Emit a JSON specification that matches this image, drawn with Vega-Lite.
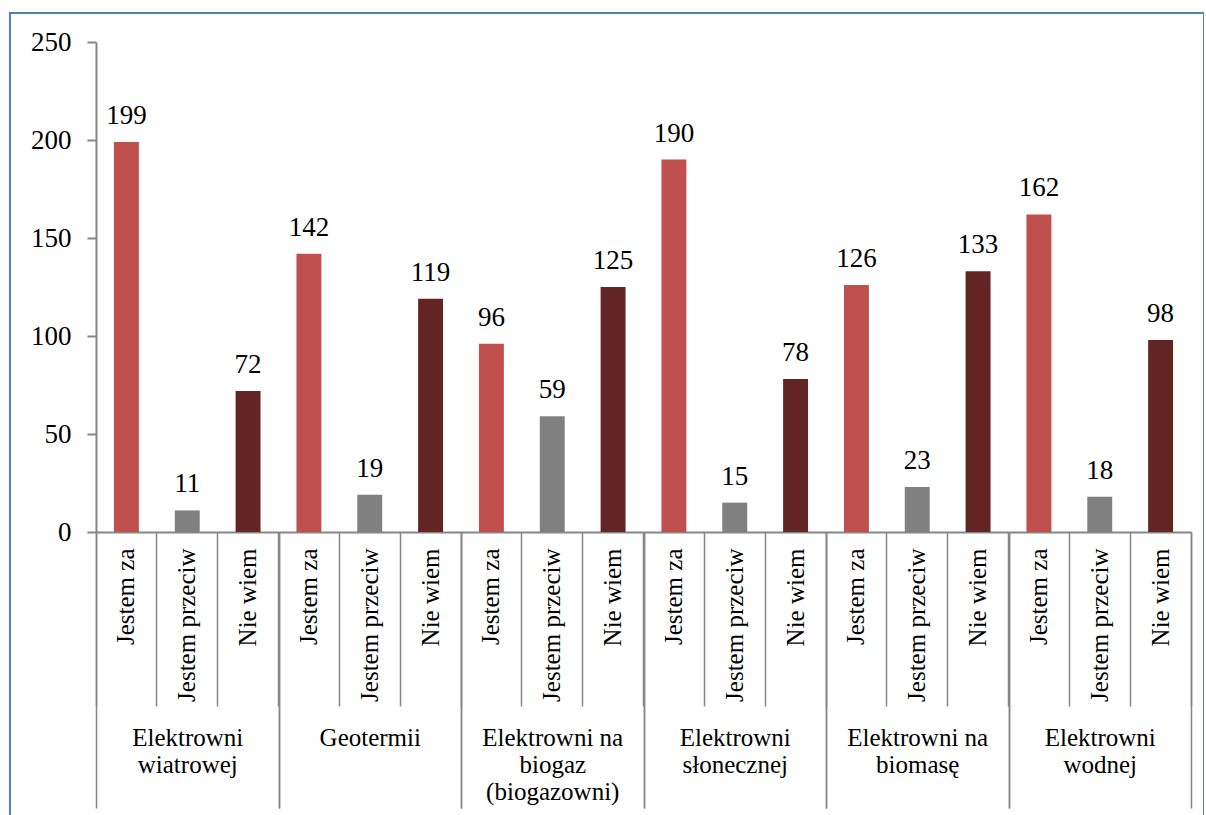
{
  "$schema": "https://vega.github.io/schema/vega-lite/v6.json",
  "width": 1194,
  "height": 810,
  "autosize": {"type": "none"},
  "padding": {"left": 10, "top": 13, "right": 0, "bottom": 0},
  "background": "white",
  "config": {
    "view": {"stroke": "#4F81BD", "strokeWidth": 2},
    "axis": {"labelFont": "Liberation Serif", "labelColor": "#000000", "domainColor": "#868686", "tickColor": "#868686", "grid": false, "title": null}
  },
  "data": {
    "values": [
      {"grupa": "Elektrowni wiatrowej", "odpowiedz": "Jestem za", "slupek": "Elektrowni wiatrowej: Jestem za", "liczba": 199},
      {"grupa": "Elektrowni wiatrowej", "odpowiedz": "Jestem przeciw", "slupek": "Elektrowni wiatrowej: Jestem przeciw", "liczba": 11},
      {"grupa": "Elektrowni wiatrowej", "odpowiedz": "Nie wiem", "slupek": "Elektrowni wiatrowej: Nie wiem", "liczba": 72},
      {"grupa": "Geotermii", "odpowiedz": "Jestem za", "slupek": "Geotermii: Jestem za", "liczba": 142},
      {"grupa": "Geotermii", "odpowiedz": "Jestem przeciw", "slupek": "Geotermii: Jestem przeciw", "liczba": 19},
      {"grupa": "Geotermii", "odpowiedz": "Nie wiem", "slupek": "Geotermii: Nie wiem", "liczba": 119},
      {"grupa": "Elektrowni na biogaz (biogazowni)", "odpowiedz": "Jestem za", "slupek": "Elektrowni na biogaz (biogazowni): Jestem za", "liczba": 96},
      {"grupa": "Elektrowni na biogaz (biogazowni)", "odpowiedz": "Jestem przeciw", "slupek": "Elektrowni na biogaz (biogazowni): Jestem przeciw", "liczba": 59},
      {"grupa": "Elektrowni na biogaz (biogazowni)", "odpowiedz": "Nie wiem", "slupek": "Elektrowni na biogaz (biogazowni): Nie wiem", "liczba": 125},
      {"grupa": "Elektrowni słonecznej", "odpowiedz": "Jestem za", "slupek": "Elektrowni słonecznej: Jestem za", "liczba": 190},
      {"grupa": "Elektrowni słonecznej", "odpowiedz": "Jestem przeciw", "slupek": "Elektrowni słonecznej: Jestem przeciw", "liczba": 15},
      {"grupa": "Elektrowni słonecznej", "odpowiedz": "Nie wiem", "slupek": "Elektrowni słonecznej: Nie wiem", "liczba": 78},
      {"grupa": "Elektrowni na biomasę", "odpowiedz": "Jestem za", "slupek": "Elektrowni na biomasę: Jestem za", "liczba": 126},
      {"grupa": "Elektrowni na biomasę", "odpowiedz": "Jestem przeciw", "slupek": "Elektrowni na biomasę: Jestem przeciw", "liczba": 23},
      {"grupa": "Elektrowni na biomasę", "odpowiedz": "Nie wiem", "slupek": "Elektrowni na biomasę: Nie wiem", "liczba": 133},
      {"grupa": "Elektrowni wodnej", "odpowiedz": "Jestem za", "slupek": "Elektrowni wodnej: Jestem za", "liczba": 162},
      {"grupa": "Elektrowni wodnej", "odpowiedz": "Jestem przeciw", "slupek": "Elektrowni wodnej: Jestem przeciw", "liczba": 18},
      {"grupa": "Elektrowni wodnej", "odpowiedz": "Nie wiem", "slupek": "Elektrowni wodnej: Nie wiem", "liczba": 98}
    ]
  },
  "layer": [
    {
      "encoding": {
        "x": {
          "field": "slupek", "type": "nominal", "sort": null,
          "scale": {"range": [86, 1181], "paddingInner": 0, "paddingOuter": 0},
          "axis": {
            "orient": "bottom", "offset": -291, "title": null,
            "labelExpr": "split(datum.value, ': ')[1]",
            "labelAngle": 270, "labelFontSize": 25, "labelPadding": -158,
            "labelLimit": 0, "labelOverlap": false, "labelBound": false,
            "bandPosition": 1, "tickExtra": true, "tickSize": 174, "tickWidth": 1.5,
            "domain": true, "domainWidth": 2
          }
        },
        "y": {
          "field": "liczba", "type": "quantitative",
          "scale": {"domain": [0, 250], "range": [519, 29], "nice": false},
          "axis": {
            "orient": "left", "offset": -86, "title": null,
            "values": [0, 50, 100, 150, 200, 250],
            "labelFontSize": 27, "labelPadding": 16,
            "tickSize": 9, "tickWidth": 2, "domainWidth": 2
          }
        }
      },
      "layer": [
        {
          "mark": {"type": "bar", "width": {"band": 0.41}},
          "encoding": {
            "color": {
              "field": "odpowiedz", "type": "nominal",
              "scale": {"domain": ["Jestem za", "Jestem przeciw", "Nie wiem"], "range": ["#C0504D", "#808080", "#632523"]},
              "legend": null
            }
          }
        },
        {
          "mark": {"type": "text", "font": "Liberation Serif", "fontSize": 27, "color": "#000000", "baseline": "alphabetic", "dy": -18},
          "encoding": {"text": {"field": "liczba", "type": "quantitative"}}
        }
      ]
    },
    {
      "mark": {"type": "text", "opacity": 0},
      "encoding": {
        "x": {
          "field": "grupa", "type": "nominal", "sort": null,
          "scale": {"range": [86, 1181], "paddingInner": 0, "paddingOuter": 0},
          "axis": {
            "orient": "bottom", "offset": -291, "title": null,
            "labelExpr": "datum.value == 'Elektrowni wiatrowej' ? ['Elektrowni', 'wiatrowej'] : datum.value == 'Elektrowni na biogaz (biogazowni)' ? ['Elektrowni na', 'biogaz', '(biogazowni)'] : datum.value == 'Elektrowni słonecznej' ? ['Elektrowni', 'słonecznej'] : datum.value == 'Elektrowni na biomasę' ? ['Elektrowni na', 'biomasę'] : datum.value == 'Elektrowni wodnej' ? ['Elektrowni', 'wodnej'] : datum.value",
            "labelAngle": 0, "labelAlign": "center", "labelBaseline": "top",
            "labelFontSize": 25, "labelLineHeight": 27, "labelPadding": -83,
            "labelLimit": 0, "labelOverlap": false, "labelBound": false,
            "tickOffset": -91.25, "labelOffset": 91.25, "tickSize": 276, "tickWidth": 1.5,
            "domain": false
          }
        }
      }
    },
    {
      "mark": {"type": "text", "opacity": 0},
      "encoding": {
        "x": {
          "field": "grupa", "type": "nominal", "sort": null,
          "scale": {"range": [86, 1181], "paddingInner": 0, "paddingOuter": 0},
          "axis": {
            "orient": "bottom", "offset": -291, "title": null,
            "labels": false,
            "tickOffset": 91.25, "tickSize": 276, "tickWidth": 1.5,
            "domain": false
          }
        }
      }
    }
  ],
  "resolve": {"scale": {"x": "independent"}, "axis": {"x": "independent"}}
}
